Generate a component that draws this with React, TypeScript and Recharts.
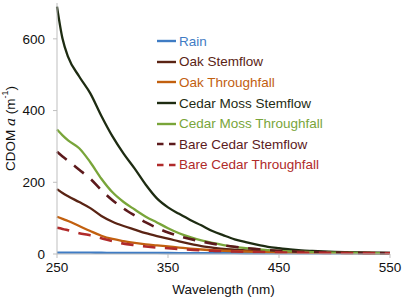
import { LineChart, Line, XAxis, YAxis, Legend } from 'recharts'

const wavelengths = [250, 255, 260, 270, 280, 290, 300, 310, 320, 330, 340, 350, 360, 370, 380, 390, 400, 410, 420, 430, 440, 450, 460, 470, 480, 490, 500, 510, 520, 530, 540, 550]

const rain = [4, 4, 4, 3.8, 3.6, 3.5, 3.3, 3.2, 3, 3, 2.9, 2.8, 2.7, 2.6, 2.5, 2.4, 2.3, 2.2, 2.1, 2, 2, 1.9, 1.8, 1.8, 1.7, 1.6, 1.6, 1.5, 1.5, 1.4, 1.4, 1.3]
const oakStem = [181, 170, 161, 145, 128, 106, 90, 78, 68, 58, 50, 43, 35, 28, 22, 18, 14, 12, 10, 8.5, 7.5, 6.5, 5.8, 5.2, 4.6, 4.2, 3.8, 3.4, 3.1, 2.8, 2.6, 2.4]
const oakThrough = [104, 98, 92, 78, 64, 51, 42, 36, 31, 27, 24, 21, 18, 15, 12.5, 10.5, 9, 8, 7, 6.2, 5.5, 4.8, 4.3, 3.9, 3.5, 3.2, 3, 2.8, 2.6, 2.4, 2.3, 2.2]
const cedarMossStem = [690, 600, 550, 495, 448, 385, 328, 280, 238, 193, 155, 130, 112, 95, 80, 64, 52, 41, 33, 26, 20, 16, 12.5, 10, 8.5, 7.2, 6.2, 5.4, 4.7, 4.1, 3.6, 3.2]
const cedarMossThrough = [347, 331, 317, 295, 256, 210, 172, 145, 124, 104, 88, 72, 58, 47, 38, 31, 25, 20, 16.5, 13.5, 11, 9, 7.5, 6.3, 5.4, 4.7, 4.1, 3.6, 3.2, 2.9, 2.6, 2.4]
const bareCedarStem = [285, 272, 260, 235, 210, 178, 150, 127, 107, 88, 73, 60, 50, 42, 35, 29, 24, 20, 16.5, 13.5, 11, 9, 7.5, 6.3, 5.4, 4.7, 4.1, 3.6, 3.2, 2.9, 2.6, 2.4]
const bareCedarThrough = [73, 70, 66, 58, 52, 44, 36, 29, 25, 21, 18, 16, 14, 12, 10, 9, 8, 7, 6.3, 5.7, 5.1, 4.6, 4.2, 3.8, 3.5, 3.2, 3, 2.8, 2.6, 2.4, 2.3, 2.2]

const xTicks = [250, 350, 450, 550]
const yTicks = [0, 200, 400, 600]

const seriesList = [
  { key: 'rain', name: 'Rain', color: '#3f7cc4', dash: undefined as string | undefined, values: rain },
  { key: 'oakStem', name: 'Oak Stemflow', color: '#5a2414', dash: undefined, values: oakStem },
  { key: 'oakThrough', name: 'Oak Throughfall', color: '#c2600f', dash: undefined, values: oakThrough },
  { key: 'cedarMossStem', name: 'Cedar Moss Stemflow', color: '#1e2c12', dash: undefined, values: cedarMossStem },
  { key: 'cedarMossThrough', name: 'Cedar Moss Throughfall', color: '#79a53a', dash: undefined, values: cedarMossThrough },
  { key: 'bareCedarStem', name: 'Bare Cedar Stemflow', color: '#5c1a1c', dash: '12.5 9.5', values: bareCedarStem },
  { key: 'bareCedarThrough', name: 'Bare Cedar Throughfall', color: '#b02a2a', dash: '12.5 9.5', values: bareCedarThrough },
]

const data = wavelengths.map((w, i) => {
  const row: Record<string, number> = { wavelength: w }
  seriesList.forEach(s => { row[s.key] = s.values[i] })
  return row
})

const FONT = '"Liberation Sans", Arial, sans-serif'

const SideLegend = () => (
  <div style={{ fontFamily: FONT, fontSize: 13.5 }}>
    {seriesList.map(s => (
      <div key={s.key} style={{ display: 'flex', alignItems: 'center', height: 20.6 }}>
        <svg width={22} height={4} style={{ marginRight: 1 }}>
          <line x1={1} y1={2} x2={20} y2={2} stroke={s.color} strokeWidth={2.4} strokeDasharray={s.dash ? '6.5 5.5' : undefined} />
        </svg>
        <span style={{ color: s.color, whiteSpace: 'nowrap' }}>{s.name}</span>
      </div>
    ))}
  </div>
)

const YTitle = ({ viewBox }: any) => {
  const cx = 10
  const cy = viewBox ? viewBox.y + viewBox.height / 2 : 129
  return (
    <text x={cx} y={cy} transform={`rotate(-90, ${cx}, ${cy})`} textAnchor="middle" dominantBaseline="central"
      style={{ fontFamily: FONT, fontSize: 13.5, fill: '#111' }}>
      CDOM <tspan style={{ fontFamily: '"DejaVu Serif", "Liberation Serif", serif', fontStyle: 'italic' }}>a</tspan> (m
      <tspan dy={-5} style={{ fontSize: 9 }}>-1</tspan>
      <tspan dy={5}>)</tspan>
    </text>
  )
}

export default function App() {
  return (
    <div style={{ position: 'absolute', left: 0, top: 0, width: 403, height: 300, background: '#fff' }}>
      <LineChart width={403} height={300} data={data} margin={{ top: 3, right: 13, left: 0, bottom: 0 }}>
        <XAxis dataKey="wavelength" type="number" domain={[250, 550]} ticks={xTicks} height={46}
          axisLine={{ stroke: '#bfbfbf' }} tickLine={{ stroke: '#bfbfbf' }} tickSize={4} tickMargin={4}
          tick={{ fontSize: 13.5, fill: '#111', fontFamily: FONT }}
          label={{ value: 'Wavelength (nm)', position: 'insideBottom', offset: 6, style: { fontSize: 13.5, fill: '#111', fontFamily: FONT } }} />
        <YAxis type="number" domain={[0, 700]} ticks={yTicks} width={57} interval={0}
          axisLine={{ stroke: '#bfbfbf' }} tickLine={{ stroke: '#bfbfbf' }} tickSize={4} tickMargin={8}
          tick={{ fontSize: 13.5, fill: '#111', fontFamily: FONT }}
          label={<YTitle />} />
        <Legend layout="vertical" align="center" verticalAlign="middle" content={<SideLegend />}
          wrapperStyle={{ left: 156, top: 31, width: 220, height: 150 }} />
        {seriesList.map(s => (
          <Line key={s.key} dataKey={s.key} name={s.name} stroke={s.color} strokeWidth={s.dash ? 2.6 : 2.3} strokeDasharray={s.dash}
            dot={false} activeDot={false} type="monotone" isAnimationActive={false} />
        ))}
      </LineChart>
    </div>
  )
}
